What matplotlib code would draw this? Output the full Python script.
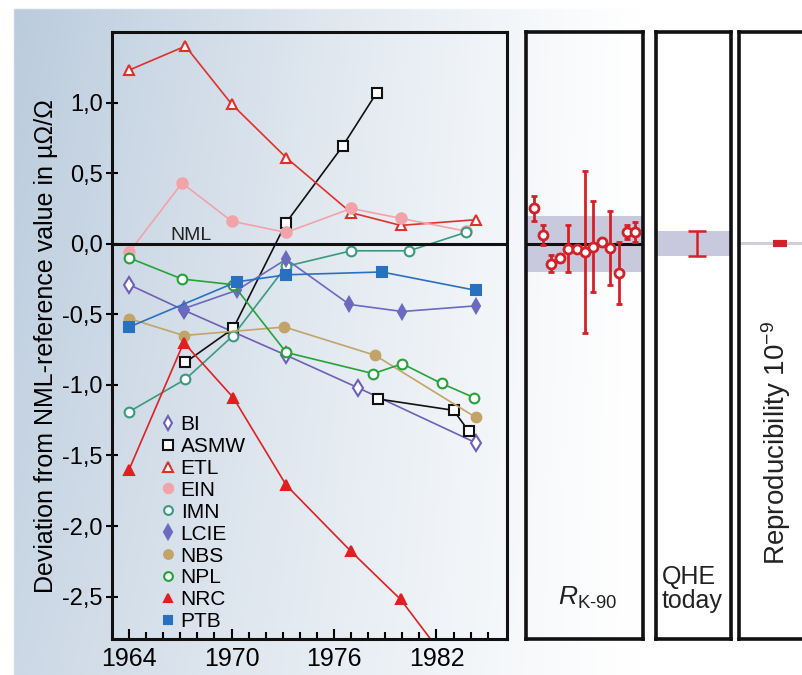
import numpy as np
import matplotlib
matplotlib.use('Agg')
import matplotlib.pyplot as plt
from matplotlib.lines import Line2D

plt.rcParams['font.family'] = ['Liberation Sans', 'DejaVu Sans']
plt.rcParams['mathtext.fontset'] = 'custom'
plt.rcParams['mathtext.rm'] = 'Liberation Sans'
plt.rcParams['mathtext.it'] = 'Liberation Sans:italic'

# --- data: deviation from NML reference value (µΩ/Ω) per lab ---
bi_year = [1964.0, 1967.2, 1973.2, 1977.4, 1984.3]
bi_dev = [-0.29, -0.47, -0.79, -1.02, -1.41]

asmw_year = [1967.3, 1970.1, 1973.2, 1976.5, 1978.5, np.nan, 1978.6, 1983.0, 1983.9]
asmw_dev = [-0.84, -0.60, 0.15, 0.69, 1.07, np.nan, -1.10, -1.18, -1.33]

etl_year = [1964.0, 1967.3, 1970.0, 1973.2, 1977.0, 1979.9, 1984.3]
etl_dev = [1.23, 1.40, 0.99, 0.61, 0.22, 0.13, 0.17]

ein_year = [1964.0, 1967.1, 1970.0, 1973.2, 1977.0, 1979.9, 1983.7]
ein_dev = [-0.06, 0.43, 0.16, 0.08, 0.25, 0.18, 0.09]

imn_year = [1964.0, 1967.3, 1970.1, 1973.2, 1977.0, 1980.4, 1983.7]
imn_dev = [-1.19, -0.96, -0.65, -0.16, -0.05, -0.05, 0.08]

lcie_year = [1967.2, 1970.3, 1973.2, 1976.9, 1980.0, 1984.3]
lcie_dev = [-0.46, -0.33, -0.11, -0.43, -0.48, -0.44]

nbs_year = [1964.0, 1967.2, 1973.1, 1978.4, 1984.3]
nbs_dev = [-0.53, -0.65, -0.59, -0.79, -1.23]

npl_year = [1964.0, 1967.1, 1970.1, 1973.2, 1978.3, 1980.0, 1982.3, 1984.2]
npl_dev = [-0.10, -0.25, -0.29, -0.77, -0.92, -0.85, -0.99, -1.09]

nrc_year = [1964.0, 1967.2, 1970.1, 1973.2, 1977.0, 1979.9, 1983.9]
nrc_dev = [-1.60, -0.70, -1.09, -1.71, -2.18, -2.52, -3.16]

ptb_year = [1964.0, 1970.3, 1973.2, 1978.8, 1984.3]
ptb_dev = [-0.59, -0.27, -0.22, -0.20, -0.33]

# R_K-90 comparison values with uncertainties
rk_dev = [0.25, 0.06, -0.14, -0.10, -0.035, -0.035, -0.06, -0.02, 0.01, -0.03, -0.205, 0.085, 0.085]
rk_err = [0.09, 0.07, 0.06, 0.03, 0.165, 0.0, 0.575, 0.32, 0.0, 0.265, 0.22, 0.05, 0.07]
rk_band = 0.2

qhe_dev = [0.0]
qhe_err = [0.088]
qhe_band = 0.09

repro_dev = [0.0]
repro_err = [0.01]
repro_band = 0.009

x_ticks = [1964, 1970, 1976, 1982]
y_ticks = [-2.5, -2.0, -1.5, -1.0, -0.5, 0.0, 0.5, 1.0]

W, H = 802, 675
fig = plt.figure(figsize=(W / 100, H / 100), dpi=100)


def px(x0, y0, x1, y1):
    return [x0 / W, 1 - y1 / H, (x1 - x0) / W, (y1 - y0) / H]


# background wash
bg = fig.add_axes([0, 0, 1, 1], zorder=-10)
bg.axis('off')
xx, yy = np.meshgrid(np.linspace(0, W, 400), np.linspace(0, H, 300))
t = np.clip(1 - xx / 640, 0, 1) ** 1.1 * (1 - 0.25 * yy / H)
t[(xx < 13) | (yy < 7)] = 0
base = np.array([185, 202, 220]) / 255
img = 1 - t[..., None] * (1 - base)
bg.imshow(img, extent=[0, W, H, 0], aspect='auto')
bg.set_xlim(0, W)
bg.set_ylim(H, 0)

ylim = (-2.8, 1.5)

# main plot
ax = fig.add_axes(px(112, 32, 506.5, 639))
ax.set_facecolor('none')

series = [
    ('BI', bi_year, bi_dev, '#6f5fb5', 'd', 'white', 8),
    ('ASMW', asmw_year, asmw_dev, '#111111', 's', 'white', 7.5),
    ('ETL', etl_year, etl_dev, '#e0302a', '^', 'white', 7.5),
    ('EIN', ein_year, ein_dev, '#f2a3aa', 'o', None, 7.5),
    ('IMN', imn_year, imn_dev, '#3a9a80', 'o', 'white', 7),
    ('LCIE', lcie_year, lcie_dev, '#6a6ac0', 'd', None, 7.5),
    ('NBS', nbs_year, nbs_dev, '#c2a468', 'o', None, 7),
    ('NPL', npl_year, npl_dev, '#25a33a', 'o', 'white', 7),
    ('NRC', nrc_year, nrc_dev, '#e02020', '^', None, 7),
    ('PTB', ptb_year, ptb_dev, '#2a70c0', 's', None, 7),
]

handles = []
for name, yr, dev, col, mk, face, ms in series:
    fc = col if face is None else face
    ax.plot(yr, dev, color=col, lw=1.2, marker=mk, ms=ms, mfc=fc, mec=col, mew=1.5)
    handles.append(Line2D([], [], ls='none', marker=mk, ms=ms * 0.9, mfc=fc, mec=col, mew=1.5))

ax.axhline(0, color='#111111', lw=2.2, zorder=5)
ax.text(1966.4, 0.028, 'NML', fontsize=14, va='baseline', color='#222222')

ax.set_xlim(1963.0, 1986.1)
ax.set_ylim(*ylim)
ax.set_xticks(x_ticks)
ax.set_xticks(range(1964, 1986), minor=True)
ax.set_yticks(y_ticks, [f'{v:.1f}'.replace('.', ',') for v in y_ticks])
ax.tick_params(axis='x', which='major', direction='in', length=7, width=1.5, labelsize=18, pad=6)
ax.tick_params(axis='x', which='minor', direction='in', length=5, width=1.5)
ax.tick_params(axis='y', direction='inout', length=9, width=1.5, labelsize=17, pad=2)
for s in ax.spines.values():
    s.set_linewidth(2.2)
    s.set_color('#111111')
ax.set_ylabel('Deviation from NML-reference value in µΩ/Ω', fontsize=18)
ax.yaxis.set_label_coords(-0.138, 0.483)

ax.legend(handles, [s[0] for s in series], loc='upper left', bbox_to_anchor=(0.124, 0.369),
          frameon=False, fontsize=15, handlelength=0.65, handletextpad=0.3,
          labelspacing=0.14, borderpad=0, borderaxespad=0)

red = '#d42028'
band_col = '#c9c9de'


def frame(a):
    a.set_facecolor('none')
    a.set_xticks([])
    a.set_yticks([])
    a.set_ylim(*ylim)
    for s in a.spines.values():
        s.set_linewidth(2.6)
        s.set_color('#111111')


# R_K-90 panel
ax2 = fig.add_axes(px(526, 32, 643, 639))
frame(ax2)
ax2.set_xlim(0, len(rk_dev) + 0.9)
ax2.axhspan(-rk_band, rk_band, color=band_col, lw=0, zorder=0)
ax2.axhline(0, color='#111111', lw=2.2, zorder=1)
ax2.errorbar(np.arange(1, len(rk_dev) + 1), rk_dev, yerr=rk_err, fmt='o', ms=6.5, mfc='white',
             mec=red, mew=2, ecolor=red, elinewidth=2, capsize=2.5, capthick=2, zorder=3)

# QHE today panel
ax3 = fig.add_axes(px(656, 32, 730.5, 639))
frame(ax3)
ax3.set_xlim(0, 1)
ax3.axhspan(-qhe_band, qhe_band, color=band_col, lw=0, zorder=0)
ax3.errorbar([0.55], qhe_dev, yerr=qhe_err, fmt='none', ecolor=red, elinewidth=1.8,
             capsize=6.5, capthick=1.8)

# reproducibility panel (cut off at the right edge)
ax4 = fig.add_axes(px(739, 32, 870, 639))
frame(ax4)
ax4.set_xlim(0, 1)
ax4.axhspan(-repro_band, repro_band, color='#cfcfdc', lw=0, zorder=0)
ax4.errorbar([0.31], repro_dev, yerr=repro_err, fmt='none', ecolor=red, elinewidth=5,
             capsize=5, capthick=3)

fig.text(588 / W, 1 - 598 / H, r'$R_{\mathrm{K}\mathrm{\text{-}}\mathrm{90}}$', fontsize=19,
         ha='center', va='center', color='#222222')
fig.text(662 / W, 1 - 613 / H, 'QHE\ntoday', fontsize=18, ha='left', va='bottom',
         linespacing=1.0, color='#222222')
fig.text(776 / W, 1 - 443 / H, r'Reproducibility 10$^{\mathrm{-9}}$', fontsize=20, rotation=90,
         ha='center', va='center', color='#222222')

fig.savefig('out.png', dpi=100)
